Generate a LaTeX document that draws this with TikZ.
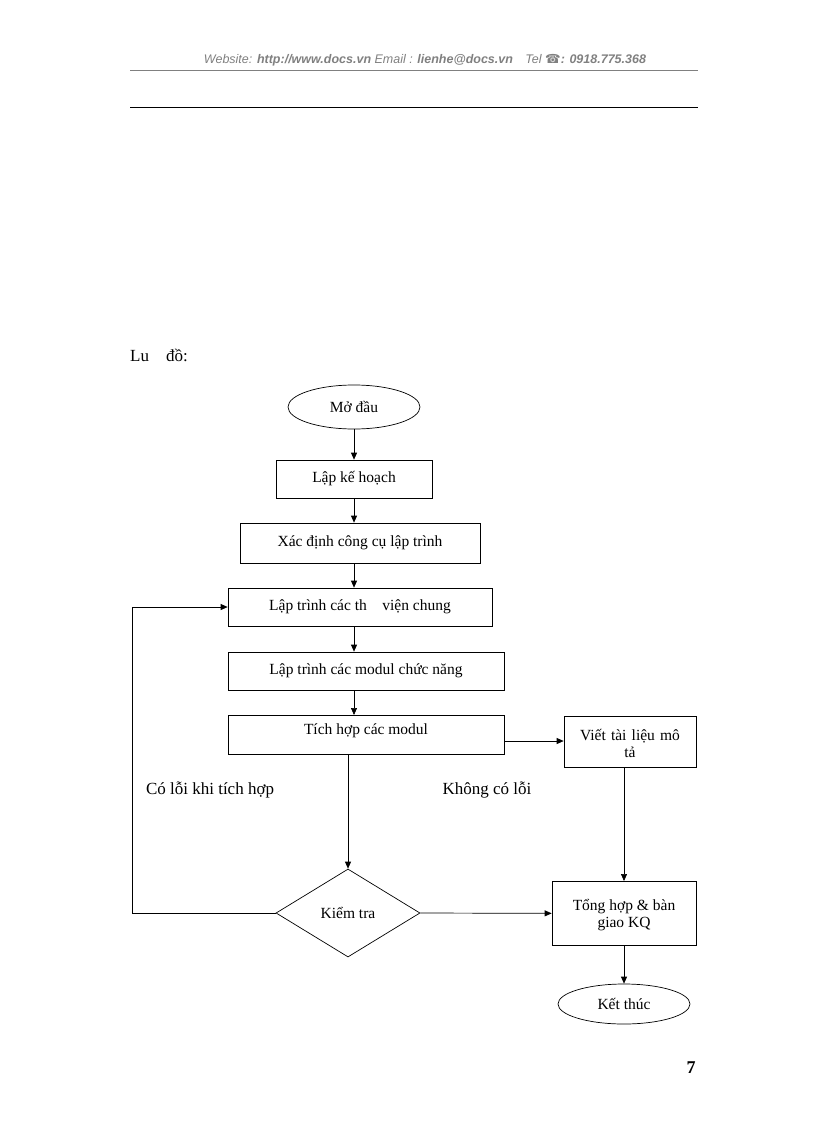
\documentclass[tikz,border=0pt]{standalone}
\usepackage{fontspec}
\setmainfont{Liberation Serif}
\newfontfamily\hdr{Liberation Sans}
\newfontfamily\phonefont{DejaVu Sans}
\usetikzlibrary{shapes.geometric,arrows.meta}
\begin{document}
\begin{tikzpicture}[x=1pt,y=-1pt,
  box/.style={draw,line width=0.7pt,inner sep=0pt,font=\fontsize{15.5}{17}\selectfont},
  arr/.style={-{Triangle[length=7pt,width=6pt]},line width=0.7pt},
  lbl/.style={font=\fontsize{17}{19}\selectfont}]
\useasboundingbox (0,0) rectangle (816,1123);
\node[font=\hdr\itshape\fontsize{12.5}{14}\selectfont,text=gray] (h) at (425,60) {Website: \textbf{http://www.docs.vn} Email : \textbf{lienhe@docs.vn}\quad Tel {\phonefont\upshape ☎}\textbf{: 0918.775.368}};
\draw[gray,line width=0.5pt] (130,70) -- (698,70);
\draw[line width=0.8pt] (130,107) -- (698,107);
\node[lbl,anchor=west,inner sep=0pt] (t) at (130,355) {Lu\quad đồ:};
\node[box,ellipse,minimum width=132pt,minimum height=44pt] (a) at (354,407) {Mở đầu};
\node[box,minimum width=156pt,minimum height=38pt] (b) at (354,479) {Lập kế hoạch};
\node[box,minimum width=240pt,minimum height=40pt] (c) at (360,543) {Xác định công cụ lập trình};
\node[box,minimum width=264pt,minimum height=38pt] (d) at (360,607) {Lập trình các th\quad viện chung};
\node[box,minimum width=276pt,minimum height=38pt] (e) at (366,671) {Lập trình các modul chức năng};
\node[box,minimum width=276pt,minimum height=39pt,anchor=north west] (f) at (228,715) {};
\node[box,draw=none] at (366,731) {Tích hợp các modul};
\node[box,minimum width=132pt,minimum height=51pt,align=center,text width=120pt,anchor=north] (g) at (630,716) {\rule{0pt}{15pt}Viết tài liệu mô\\tả};
\node[box,diamond,minimum width=144pt,minimum height=88pt,aspect=1.64] (k) at (348,913) {Kiểm tra};
\node[box,minimum width=144pt,minimum height=64pt,align=center,anchor=north] (s) at (624,881) {\rule{0pt}{15pt}Tổng hợp \& bàn\\giao KQ};
\node[box,ellipse,minimum width=132pt,minimum height=40pt] (z) at (624,1004) {Kết thúc};
\node[lbl] (l1) at (210,790) {Có lỗi khi tích hợp};
\node[lbl] (l2) at (487,790) {Không có lỗi};
\node[font=\bfseries\fontsize{18}{20}\selectfont] (p) at (691,1068) {7};
\draw[arr] (a.south -| b.north) -- (b.north);
\draw[arr] (b) -- (b |- c.north);
\draw[arr] (b |- c.south) -- (b |- d.north);
\draw[arr] (b |- d.south) -- (b |- e.north);
\draw[arr] (b |- e.south) -- (b |- f.north);
\draw[arr] (k.north |- f.south) -- (k.north);
\draw[arr] (k.west) -- (132,913) -- (132,607) -- (d.west);
\draw[arr] (k.east) -- (s.west);
\draw[arr] (f.east |- 0,741) -- (g.west |- 0,741);
\draw[arr] (s.north |- g.south) -- (s.north);
\draw[arr] (s.south) -- (z.north);
\end{tikzpicture}
\end{document}
